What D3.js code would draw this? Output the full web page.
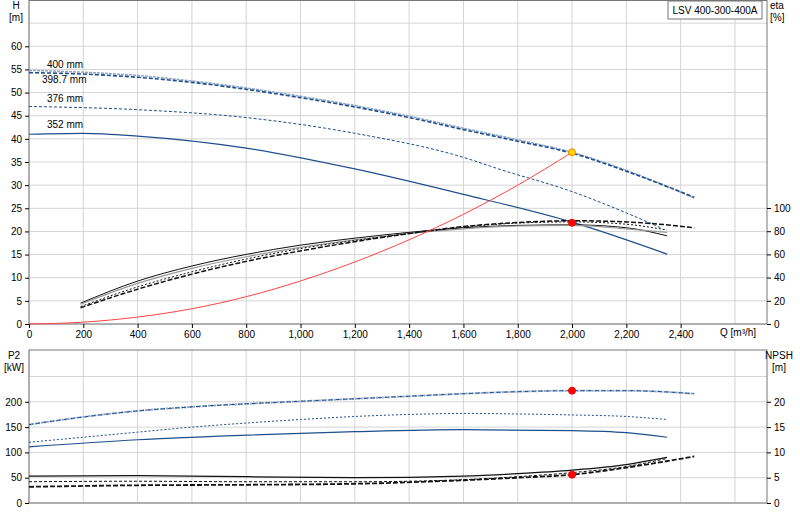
<!DOCTYPE html><html><head><meta charset="utf-8"><script src="https://cdn.jsdelivr.net/npm/d3@7"></script>
<style>body{margin:0;background:#fff}text{font-family:Arial,"Liberation Sans",sans-serif;font-size:10px}</style></head><body><svg id="c" width="800" height="520"></svg>
<script>
const qTicks=[0,200,400,600,800,1000,1200,1400,1600,1800,2000,2200,2400];
const h400=[[0,54.8],[200,54.4],[400,53.7],[600,52.5],[800,51],[1000,49.2],[1200,47.2],[1400,44.9],[1600,42.3],[1800,39.8],[2000,37.1],[2200,33.2],[2450,27.2]];
const h398=[[0,54.3],[200,54],[400,53.3],[600,52.2],[800,50.7],[1000,48.9],[1200,46.9],[1400,44.6],[1600,42],[1800,39.5],[2000,36.9],[2200,33],[2450,27.4]];
const h376=[[0,47],[400,46.3],[800,44.6],[1200,41.2],[1600,36],[1735,33.4],[2000,28.6],[2200,24],[2330,20.7]];
const h352=[[0,41],[200,41.2],[400,40.6],[800,38],[1200,33.5],[1600,28],[2000,22],[2350,15.1]];
const sysCurve=[[0,0],[200,0.4],[400,1.5],[600,3.3],[800,5.9],[1000,9.3],[1200,13.4],[1400,18.2],[1600,23.7],[1800,30],[2000,37.1]];
const etaA=[[190,18],[400,37],[600,50],[800,60],[1000,68],[1200,74],[1400,79],[1600,83],[1800,85],[2000,85.5],[2200,83],[2350,76]];
const etaB=[[190,17],[400,35],[600,48],[800,58],[1000,66],[1200,72.5],[1400,78],[1600,82],[1800,84.5],[2000,85],[2200,82],[2350,79]];
const etaC=[[190,15],[400,32],[600,45],[800,56],[1000,65],[1200,72],[1400,78],[1600,83.5],[1800,87],[2000,88],[2200,86],[2350,81]];
const etaD=[[190,14],[400,30],[600,43],[800,54],[1000,63],[1200,71],[1400,78],[1600,84],[1800,87.5],[2000,89],[2200,88],[2450,83]];
const p400=[[0,155],[200,170],[400,182],[600,190],[800,196],[1000,201],[1200,206],[1400,211],[1600,216],[1800,220],[2000,222],[2200,222],[2450,216]];
const p376=[[0,120],[200,130],[400,140],[600,150],[800,158],[1000,165],[1200,171],[1400,175],[1600,177],[1800,176],[2000,174],[2200,171],[2350,165]];
const p352=[[0,111],[400,125],[800,134],[1200,141],[1600,145],[2000,143],[2200,139],[2350,130]];
const n1=[[0,5.3],[400,5.4],[800,5.2],[1200,5.0],[1600,5.3],[1800,5.8],[2000,6.5],[2200,7.6],[2350,9.0]];
const n2=[[0,4.2],[400,4.3],[800,4.2],[1200,4.2],[1600,4.6],[1800,5.2],[2000,6.0],[2200,7.2],[2350,8.8]];
const n3=[[0,3.2],[400,3.5],[800,3.6],[1200,3.8],[1600,4.5],[1800,5.0],[2000,5.6],[2200,7.0],[2450,9.2]];
const dutyQ=2000, dutyH=37.1, dutyEta=89, dutyP=222, dutyN=5.6;
const hTicks=[0,5,10,15,20,25,30,35,40,45,50,55,60];
const etaTicks=[0,20,40,60,80,100];
const pTicks=[0,50,100,150,200];
const nTicks=[0,5,10,15,20];
const curveLabels=["400 mm","398.7 mm","376 mm","352 mm"];

const svg=d3.select("#c");
const L=29,R=767;
const x=d3.scaleLinear().domain([0,2718]).range([L,R]);
const yH=d3.scaleLinear().domain([0,70]).range([324,0]);
const yE=d3.scaleLinear().domain([0,100]).range([324,208]);
const yP=d3.scaleLinear().domain([0,250]).range([503,376.5]);
const yN=d3.scaleLinear().domain([0,25]).range([503,376.5]);
const grid="#d4d4d4";
function frame(top,bot,ys,yt){
  const g=svg.append("g");
  d3.range(0,2800,200).forEach(q=>{if(x(q)<R)g.append("line").attr("x1",x(q)).attr("x2",x(q)).attr("y1",top).attr("y2",bot).attr("stroke",grid)});
  yt.forEach(v=>g.append("line").attr("x1",L).attr("x2",R).attr("y1",ys(v)).attr("y2",ys(v)).attr("stroke",grid));
  g.append("rect").attr("x",L).attr("y",top).attr("width",R-L).attr("height",bot-top).attr("fill","none").attr("stroke","#777");
}
frame(0.5,324,yH,d3.range(0,70,5));
frame(350,503,yP,d3.range(0,260,50));
svg.append("g").attr("transform","translate("+L+",0)").call(d3.axisLeft(yH).tickValues(hTicks).tickSize(4)).call(g=>g.select(".domain").remove());
svg.append("g").attr("transform","translate("+R+",0)").call(d3.axisRight(yE).tickValues(etaTicks).tickSize(4)).call(g=>g.select(".domain").remove());
svg.append("g").attr("transform","translate(0,324)").call(d3.axisBottom(x).tickValues(qTicks).tickSize(4).tickFormat(d3.format(","))).call(g=>g.select(".domain").remove());
svg.append("g").attr("transform","translate("+L+",0)").call(d3.axisLeft(yP).tickValues(pTicks).tickSize(4)).call(g=>g.select(".domain").remove());
svg.append("g").attr("transform","translate("+R+",0)").call(d3.axisRight(yN).tickValues(nTicks).tickSize(4)).call(g=>g.select(".domain").remove());
svg.selectAll(".tick text").attr("fill","#000").style("font-size","10px");
const t=(s,X,Y,a)=>svg.append("text").attr("x",X).attr("y",Y).attr("text-anchor",a||"start").text(s);
t("H",16,9,"middle");t("[m]",16,21,"middle");t("eta",770,9);t("[%]",770,21);
t("P2",14,359,"middle");t("[kW]",14,371,"middle");t("NPSH",779,359,"middle");t("[m]",779,371,"middle");
svg.append("text").attr("x",720).attr("y",336).text("Q [m³/h]");
svg.append("rect").attr("x",668).attr("y",1).attr("width",94).attr("height",18).attr("fill","#fff").attr("stroke","#777");
t("LSV 400-300-400A",715,14,"middle");
const lblPos=[[47,68],[42,83],[47,102],[47,128]];
curveLabels.forEach((c,i)=>t(c,lblPos[i][0],lblPos[i][1]));
function draw(data,ys,col,w,dash){svg.append("path").datum(data).attr("d",d3.line().x(d=>x(d[0])).y(d=>ys(d[1])).curve(d3.curveMonotoneX)).attr("fill","none").attr("stroke",col).attr("stroke-width",w).attr("stroke-dasharray",dash||null);}
const blue="#1f4e8c";
draw(h400,yH,"#8fa6c4",1.5,"3,1");draw(h398,yH,blue,1.6,"4,2");
draw(h376,yH,blue,1,"3,2");draw(h352,yH,blue,1.2);
draw(etaA,yE,"#111",1);draw(etaB,yE,"#999",1.2);draw(etaC,yE,"#111",1,"2,2");draw(etaD,yE,"#111",1.5,"5,2");
draw(sysCurve,yH,"#f44",1);
draw(p400,yP,"#8fa6c4",2,"2,1");draw(p400,yP,blue,1,"4,3");
draw(p376,yP,blue,1,"2,2");draw(p352,yP,blue,1.2);
draw(n1,yN,"#111",1.3);draw(n2,yN,"#111",1,"3,2");draw(n3,yN,"#111",1.8,"5,2");
const dot=(X,Y,f,s)=>svg.append("circle").attr("cx",X).attr("cy",Y).attr("r",3.5).attr("fill",f).attr("stroke",s);
dot(x(dutyQ),yH(dutyH),"#ffd700","#f80");dot(x(dutyQ),yE(dutyEta)+2,"#f00","#f00");
dot(x(dutyQ),yP(dutyP),"#f00","#f00");dot(x(dutyQ),yN(dutyN),"#f00","#f00");
</script></body></html>
